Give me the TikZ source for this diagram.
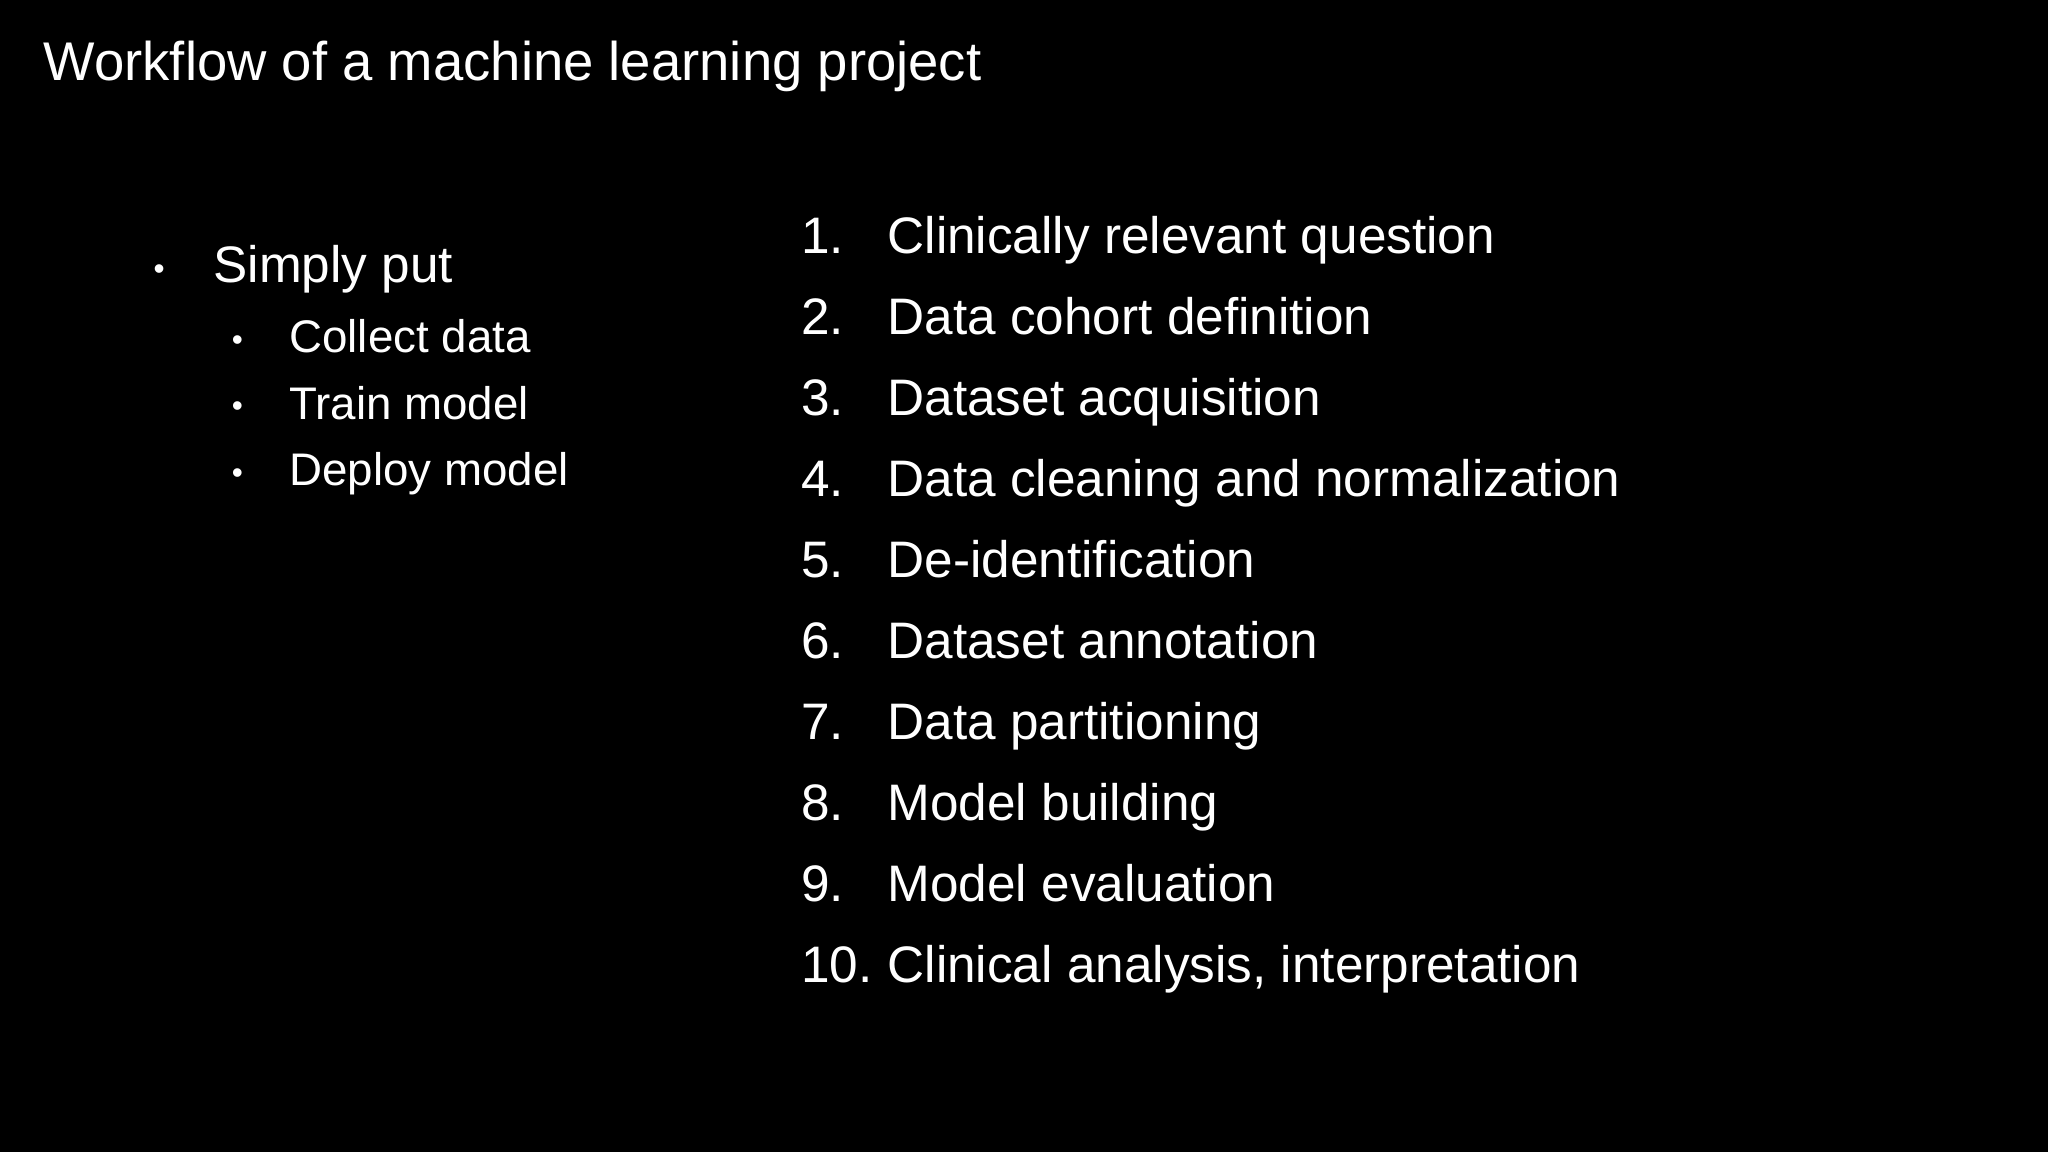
\documentclass[tikz,border=0pt]{standalone}
\usepackage{fontspec}
\setmainfont{Liberation Sans}
\begin{document}
\begin{tikzpicture}[x=0.013061cm,y=-0.013061cm,
  txt/.style={anchor=base west,inner sep=0pt,text=white},
  big/.style={txt,font=\fontsize{15.5pt}{18pt}\selectfont},
  mid/.style={txt,font=\fontsize{14.6pt}{17pt}\selectfont},
  small/.style={txt,font=\fontsize{13pt}{15pt}\selectfont},
  dot/.style={txt,font=\fontsize{9pt}{11pt}\selectfont}]
\fill[black] (0,0) rectangle (1568,882);
\useasboundingbox (0,0) rectangle (1568,882);
\node[big] (title) at (33,62) {Workflow of a machine learning project};
\node[dot] (b0) at (117,214) {•};
\node[mid] (sp) at (163,216) {Simply put};
\foreach \t [count=\i] in {Collect data,Train model,Deploy model}{
  \node[dot] (sb\i) at ({177},{268+51*(\i-1)}) {•};
  \node[small] (s\i) at ({221},{270+51*(\i-1)}) {\t};
}
\foreach \t [count=\i] in {Clinically relevant question,Data cohort definition,Dataset acquisition,Data cleaning and normalization,De-identification,Dataset annotation,Data partitioning,Model building,Model evaluation,{Clinical analysis, interpretation}}{
  \node[mid] (n\i) at ({613},{194+62*(\i-1)}) {\i.};
  \node[mid] (l\i) at ({679},{194+62*(\i-1)}) {\t};
}
\end{tikzpicture}
\end{document}
